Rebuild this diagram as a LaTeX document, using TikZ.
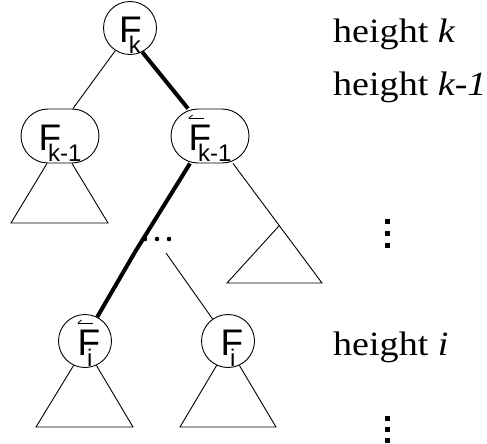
\documentclass[tikz,border=0pt]{standalone}
\usepackage{fontspec}
\setmainfont{Liberation Serif}
\newfontfamily\sansF{Liberation Sans}
\usetikzlibrary{shapes.misc,calc}
\newcommand{\Fsub}[1]{F\kern-13pt\raisebox{-11pt}{\fontsize{24}{24}\selectfont #1}}
\newcommand{\harpF}{\rlap{\rule[32pt]{15pt}{0.8pt}}\rlap{\raisebox{32pt}{\rotatebox{40}{\rule{5pt}{0.8pt}}}}F}
\newcommand{\Hsub}[1]{\harpF\kern-13pt\raisebox{-11pt}{\fontsize{24}{24}\selectfont #1}}
\tikzset{
  fnode/.style={draw, line width=0.9pt, inner sep=0pt, text height=29pt, text depth=0pt,
    font=\sansF\fontsize{37}{37}\selectfont},
  fcirc/.style={fnode, circle, minimum size=53pt},
  fbox/.style={fnode, rounded rectangle, minimum width=78pt, minimum height=54pt},
  edgeline/.style={line width=0.9pt},
  boldline/.style={line width=4pt},
  lbl/.style={anchor=base west, inner sep=0pt, font=\fontsize{34}{34}\selectfont},
  vdot/.style={fill, rectangle, minimum size=5pt, inner sep=0pt},
  hdot/.style={fill, circle, minimum size=4.6pt, inner sep=0pt},
}
\begin{document}
\begin{tikzpicture}[x=1pt,y=-1pt]
\useasboundingbox (0,0) rectangle (487,444);
% nodes
\node[fcirc] (root) at (130,28) {\Fsub{k}};
\node[fbox] (lbox) at (60,136) {\Fsub{k-1}};
\node[fbox] (rbox) at (210,136) {\Hsub{k-1}};
\node[fcirc] (lci) at (85,341) {\Hsub{i}};
\node[fcirc] (rci) at (228,341) {\Fsub{i}};
\node[hdot] (d1) at (145,239) {};
\node[hdot] (d2) at (157,239) {};
\node[hdot] (d3) at (169,239) {};
% free-end coordinates
\coordinate (dl) at (135,252);
\coordinate (dr) at (166,253);
\coordinate (lb1) at (11,223);
\coordinate (lb2) at (108,223);
\coordinate (sb1) at (227,283);
\coordinate (sb2) at (322,283);
\coordinate (ib1) at (36,427);
\coordinate (ib2) at (133,427);
\coordinate (jb1) at (180,427);
\coordinate (jb2) at (276,427);
% edges
\draw[edgeline] (root.237) -- ([xshift=13pt]lbox.north);
\draw[boldline] (root.297) -- ([xshift=-22pt]rbox.north);
\draw[boldline] ([xshift=-20pt]rbox.south) -- (dl);
\draw[boldline] (dl) -- (lci.63);
\draw[edgeline] (dr) -- (rci.125);
% subtrees
\draw[edgeline] ([xshift=-13pt]lbox.south) -- (lb1) -- (lb2) -- ([xshift=12pt]lbox.south);
\coordinate (rs) at ([xshift=23pt]rbox.south);
\coordinate (apex) at ($(rs)!0.52!(sb2)$);
\draw[edgeline] (rs) -- (sb2) -- (sb1) -- (apex);
\draw[edgeline] (lci.245) -- (ib1) -- (ib2) -- (lci.295);
\draw[edgeline] (rci.245) -- (jb1) -- (jb2) -- (rci.295);
% labels
\node[lbl] (h1) at (333,43) {\scalebox{1.12}[1]{height \textit{k}}};
\node[lbl] (h2) at (333,95) {\scalebox{1.12}[1]{height \textit{k-1}}};
\node[lbl] (h3) at (333,355) {\scalebox{1.12}[1]{height \textit{i}}};
\node[vdot] (v1) at (387,221) {};
\node[vdot] (v2) at (387,233) {};
\node[vdot] (v3) at (387,245) {};
\node[vdot] (w1) at (387,418) {};
\node[vdot] (w2) at (387,429) {};
\node[vdot] (w3) at (387,440) {};
\end{tikzpicture}
\end{document}
